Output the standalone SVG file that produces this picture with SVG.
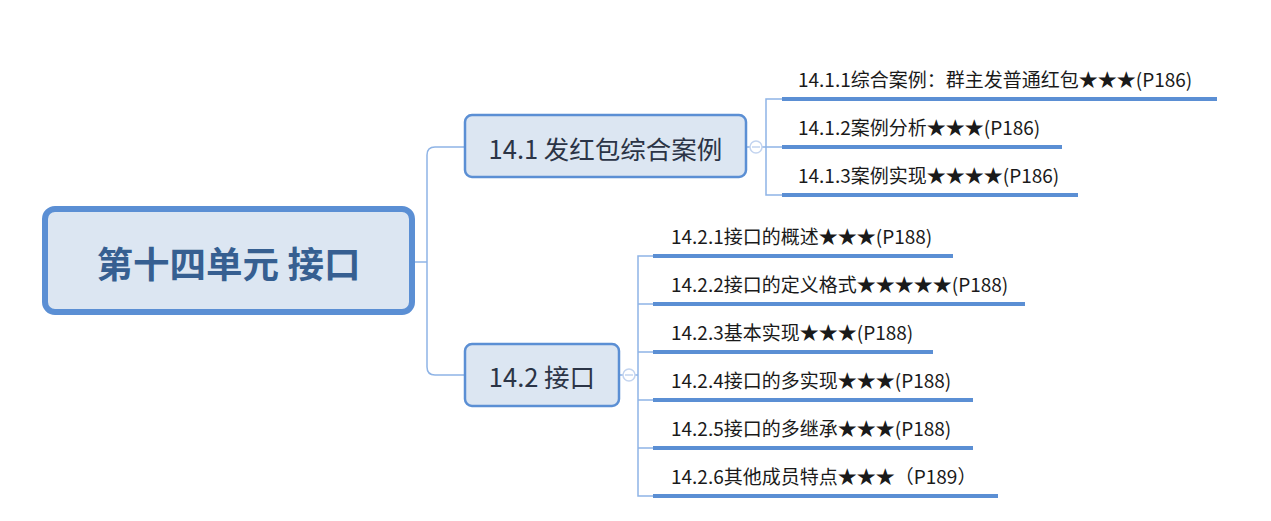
<svg xmlns="http://www.w3.org/2000/svg" width="1271" height="521" viewBox="0 0 1271 521">
<style>
.conn{fill:none;stroke:#8fb4e6;stroke-width:1.5}
.ul{stroke:#5b8fd4;stroke-width:4;stroke-linecap:butt}
.box{fill:#dce6f2;stroke:#5b8fd4;stroke-width:2.5}
.root{fill:#dce6f2;stroke:#5b8fd4;stroke-width:6}
.rt{font-family:"Noto Sans CJK SC","Microsoft YaHei",sans-serif;font-weight:bold;font-size:36.5px;fill:#365f91}
.st{font-family:"Noto Sans CJK SC",sans-serif;font-size:25.5px;fill:#2b3446}
.lt{font-family:"Noto Sans CJK SC",sans-serif;font-size:19px;fill:#1a1a1a}
.col{fill:#fff;stroke:#c3d4ef;stroke-width:1.5}
.colm{stroke:#c3d4ef;stroke-width:1.5}
</style>
<rect width="1271" height="521" fill="#fff"/>
<g id="connectors">
<path class="conn" d="M415 262 H427"/>
<path class="conn" d="M465 147 H435 Q427 147 427 155 V367 Q427 375 435 375 H465"/>
<path class="conn" d="M746 147 H750 M762 147 H766 M782 99 H766 V195 H782 M766 147 H782"/>
<path class="conn" d="M619 375 H623 M635 375 H638 M653 256 H638 V496 H653 M638 304 H653 M638 352 H653 M638 400 H653 M638 448 H653"/>
<circle class="col" cx="756" cy="147" r="6"/>
<path class="colm" d="M752 147 H760"/>
<circle class="col" cx="629" cy="375" r="6"/>
<path class="colm" d="M625 375 H633"/>
</g>
<g id="root">
<rect class="root" x="45" y="209" width="367" height="103" rx="10"/>
<text class="rt" x="228.5" y="262" text-anchor="middle" dominant-baseline="central">第十四单元 接口</text>
</g>
<g id="n141">
<rect class="box" x="465" y="115" width="281" height="62" rx="7"/>
<text class="st" x="605.5" y="147" text-anchor="middle" dominant-baseline="central">14.1 发红包综合案例</text>
</g>
<g id="n1411">
<line class="ul" x1="782" y1="99" x2="1217" y2="99"/>
<text class="lt" x="798" y="87">14.1.1综合案例：群主发普通红包★★★(P186)</text>
</g>
<g id="n1412">
<line class="ul" x1="782" y1="147" x2="1062" y2="147"/>
<text class="lt" x="798" y="135">14.1.2案例分析★★★(P186)</text>
</g>
<g id="n1413">
<line class="ul" x1="782" y1="195" x2="1078" y2="195"/>
<text class="lt" x="798" y="183">14.1.3案例实现★★★★(P186)</text>
</g>
<g id="n142">
<rect class="box" x="465" y="344" width="154" height="62" rx="7"/>
<text class="st" x="542" y="375" text-anchor="middle" dominant-baseline="central">14.2 接口</text>
</g>
<g id="n1421">
<line class="ul" x1="653" y1="256" x2="953" y2="256"/>
<text class="lt" x="671" y="244">14.2.1接口的概述★★★(P188)</text>
</g>
<g id="n1422">
<line class="ul" x1="653" y1="304" x2="1025" y2="304"/>
<text class="lt" x="671" y="292">14.2.2接口的定义格式★★★★★(P188)</text>
</g>
<g id="n1423">
<line class="ul" x1="653" y1="352" x2="933" y2="352"/>
<text class="lt" x="671" y="340">14.2.3基本实现★★★(P188)</text>
</g>
<g id="n1424">
<line class="ul" x1="653" y1="400" x2="973" y2="400"/>
<text class="lt" x="671" y="388">14.2.4接口的多实现★★★(P188)</text>
</g>
<g id="n1425">
<line class="ul" x1="653" y1="448" x2="973" y2="448"/>
<text class="lt" x="671" y="436">14.2.5接口的多继承★★★(P188)</text>
</g>
<g id="n1426">
<line class="ul" x1="653" y1="496" x2="998" y2="496"/>
<text class="lt" x="671" y="484">14.2.6其他成员特点★★★（P189）</text>
</g>
</svg>
